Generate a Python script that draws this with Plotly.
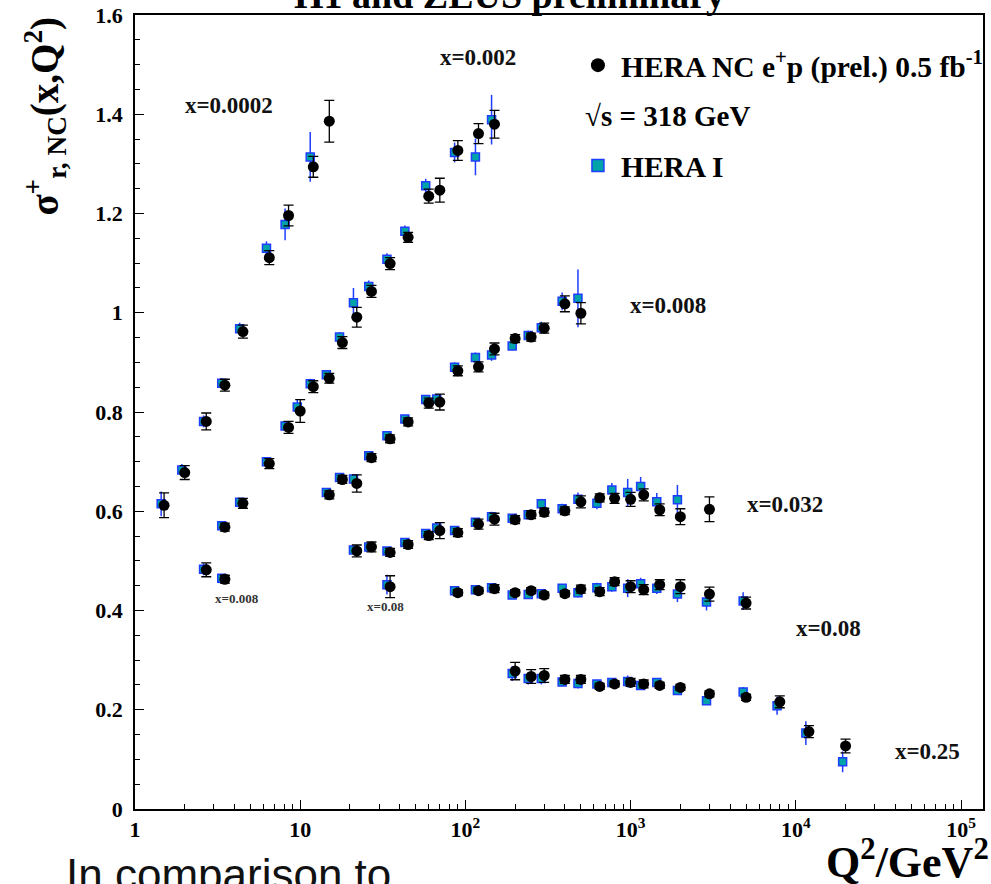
import plotly.graph_objects as go

# ---------------- data ----------------
# x = 0.0002
q2_a_nc = [1.5, 2, 2.7, 3.5, 4.5, 6.5, 8.5, 12, 15]
nc_a = [0.612, 0.678, 0.781, 0.854, 0.962, 1.111, 1.196, 1.294, 1.386]
nc_a_err = [0.025, 0.014, 0.017, 0.012, 0.013, 0.014, 0.021, 0.021, 0.042]
q2_a_h1 = [1.44, 1.92, 2.6, 3.35, 4.3, 6.25, 8.1, 11.5]
h1_a = [0.615, 0.683, 0.781, 0.858, 0.968, 1.130, 1.178, 1.314]
h1_a_err = [0.025, 0.012, 0.012, 0.010, 0.012, 0.014, 0.032, 0.050]

# x = 0.002
q2_b_nc = [3.5, 4.5, 6.5, 8.5, 10, 12, 15, 18, 22, 27, 35, 45, 60, 70, 90, 120, 150]
nc_b = [0.568, 0.616, 0.696, 0.769, 0.802, 0.851, 0.868, 0.940, 0.991, 1.043,
        1.099, 1.152, 1.235, 1.247, 1.327, 1.361, 1.380]
nc_b_err = [0.008, 0.010, 0.010, 0.012, 0.023, 0.012, 0.010, 0.012, 0.020, 0.012,
            0.012, 0.010, 0.014, 0.024, 0.020, 0.020, 0.028]
q2_b_h1 = [3.35, 4.3, 6.25, 8.1, 9.6, 11.5, 14.4, 17.3, 21, 26, 33.5, 43, 57.5, 86, 115, 144]
h1_b = [0.571, 0.618, 0.700, 0.772, 0.810, 0.857, 0.875, 0.951, 1.020, 1.053,
        1.108, 1.164, 1.256, 1.323, 1.314, 1.389]
h1_b_err = [0.008, 0.008, 0.008, 0.010, 0.015, 0.010, 0.008, 0.010, 0.030, 0.012,
            0.012, 0.012, 0.014, 0.020, 0.037, 0.050]

# x = 0.008 (low Q2 points, small label)
q2_c0_nc = [2.7, 3.5]
nc_c0 = [0.482, 0.463]
nc_c0_err = [0.014, 0.008]
q2_c0_h1 = [2.6, 3.35]
h1_c0 = [0.483, 0.465]
h1_c0_err = [0.012, 0.008]

# x = 0.008
q2_c_nc = [15, 18, 22, 27, 35, 45, 60, 70, 90, 120, 150, 200, 250, 300, 400, 500]
nc_c = [0.633, 0.664, 0.656, 0.708, 0.746, 0.780, 0.818, 0.820, 0.883, 0.891,
        0.927, 0.948, 0.951, 0.969, 1.018, 0.999]
nc_c_err = [0.008, 0.008, 0.0175, 0.008, 0.008, 0.008, 0.010, 0.016, 0.010, 0.010,
            0.012, 0.008, 0.008, 0.010, 0.016, 0.0215]
q2_c_h1 = [14.4, 17.3, 21, 26, 33.5, 43, 57.5, 67, 86, 115, 144, 192, 240, 288, 385, 480]
h1_c = [0.638, 0.668, 0.665, 0.712, 0.752, 0.786, 0.825, 0.826, 0.890, 0.910,
        0.915, 0.933, 0.954, 0.970, 1.023, 1.029]
h1_c_err = [0.006, 0.006, 0.010, 0.006, 0.006, 0.006, 0.008, 0.010, 0.010, 0.010,
            0.012, 0.008, 0.010, 0.012, 0.018, 0.058]

# x = 0.032
q2_d_nc = [22, 27, 35, 45, 60, 70, 90, 120, 150, 200, 250, 300, 400, 500, 650,
           800, 1000, 1200, 1500, 2000, 3000]
nc_d = [0.520, 0.528, 0.517, 0.533, 0.551, 0.561, 0.557, 0.574, 0.584, 0.583,
        0.593, 0.598, 0.601, 0.619, 0.627, 0.626, 0.624, 0.633, 0.603, 0.589, 0.604]
nc_d_err = [0.012, 0.010, 0.008, 0.008, 0.008, 0.016, 0.008, 0.010, 0.012, 0.008,
            0.008, 0.008, 0.008, 0.012, 0.008, 0.010, 0.014, 0.012, 0.012, 0.016, 0.025]
q2_d_h1 = [21, 26, 33.5, 43, 57.5, 67, 86, 115, 144, 192, 240, 288, 385, 480, 625,
           770, 960, 1150, 1440, 1920]
h1_d = [0.522, 0.528, 0.520, 0.537, 0.555, 0.566, 0.561, 0.578, 0.589, 0.586,
        0.593, 0.615, 0.605, 0.624, 0.616, 0.643, 0.638, 0.650, 0.619, 0.623]
h1_d_err = [0.008, 0.008, 0.006, 0.006, 0.006, 0.010, 0.006, 0.008, 0.010, 0.008,
            0.008, 0.010, 0.010, 0.014, 0.012, 0.014, 0.027, 0.019, 0.018, 0.030]

# x = 0.08 (single low-Q2 point, small label)
q2_e0_nc = [35]
nc_e0 = [0.448]
nc_e0_err = [0.022]
q2_e0_h1 = [33.5]
h1_e0 = [0.452]
h1_e0_err = [0.020]

# x = 0.08
q2_e_nc = [90, 120, 150, 200, 250, 300, 400, 500, 650, 800, 1000, 1200, 1500, 2000, 3000, 5000]
nc_e = [0.436, 0.440, 0.444, 0.436, 0.440, 0.431, 0.434, 0.443, 0.438, 0.458,
        0.448, 0.442, 0.452, 0.448, 0.433, 0.415]
nc_e_err = [0.006, 0.006, 0.008, 0.006, 0.006, 0.006, 0.006, 0.008, 0.008, 0.008,
            0.012, 0.010, 0.010, 0.014, 0.014, 0.012]
q2_e_h1 = [86, 115, 144, 192, 240, 288, 385, 480, 625, 770, 960, 1150, 1440, 1920, 2880, 4800]
h1_e = [0.440, 0.442, 0.446, 0.431, 0.432, 0.434, 0.445, 0.436, 0.446, 0.448,
        0.445, 0.454, 0.445, 0.433, 0.417, 0.419]
h1_e_err = [0.006, 0.006, 0.008, 0.006, 0.006, 0.006, 0.008, 0.010, 0.010, 0.010,
            0.018, 0.012, 0.012, 0.016, 0.017, 0.018]

# x = 0.25
q2_f_nc = [200, 250, 300, 400, 500, 650, 800, 1000, 1200, 1500, 2000, 3000, 5000,
           8000, 12000, 20000]
nc_f = [0.278, 0.267, 0.269, 0.261, 0.261, 0.247, 0.252, 0.255, 0.252, 0.249,
        0.245, 0.232, 0.225, 0.216, 0.156, 0.127]
nc_f_err = [0.0175, 0.014, 0.014, 0.008, 0.008, 0.006, 0.006, 0.008, 0.008, 0.006,
            0.006, 0.006, 0.006, 0.012, 0.012, 0.014]
q2_f_h1 = [192, 240, 288, 385, 480, 625, 770, 960, 1150, 1440, 1920, 2880, 4800,
           7700, 11500, 19200]
h1_f = [0.273, 0.263, 0.263, 0.256, 0.253, 0.252, 0.255, 0.257, 0.249, 0.255,
        0.239, 0.218, 0.236, 0.208, 0.153, 0.095]
h1_f_err = [0.015, 0.012, 0.012, 0.008, 0.010, 0.008, 0.008, 0.012, 0.008, 0.008,
            0.008, 0.008, 0.010, 0.018, 0.024, 0.021]

bin_labels = ["x=0.0002", "x=0.002", "x=0.008", "x=0.032", "x=0.08", "x=0.25"]
small_labels = ["x=0.008", "x=0.08"]

x_tickvals = [1, 10, 100, 1000, 10000, 100000]
x_ticktext = ["1", "10", "10<sup>2</sup>", "10<sup>3</sup>", "10<sup>4</sup>", "10<sup>5</sup>"]
y_tickvals = [0, 0.2, 0.4, 0.6, 0.8, 1.0, 1.2, 1.4, 1.6]
y_ticktext = ["0", "0.2", "0.4", "0.6", "0.8", "1", "1.2", "1.4", "1.6"]

# ---------------- styling ----------------
SERIF = "Liberation Serif, Times New Roman, serif"
TEAL = "#00a3a8"
BLUE = "#1f3dff"

h1_sets = [(q2_a_h1, h1_a, h1_a_err), (q2_b_h1, h1_b, h1_b_err), (q2_c0_h1, h1_c0, h1_c0_err),
           (q2_c_h1, h1_c, h1_c_err), (q2_d_h1, h1_d, h1_d_err), (q2_e0_h1, h1_e0, h1_e0_err),
           (q2_e_h1, h1_e, h1_e_err), (q2_f_h1, h1_f, h1_f_err)]
nc_sets = [(q2_a_nc, nc_a, nc_a_err), (q2_b_nc, nc_b, nc_b_err), (q2_c0_nc, nc_c0, nc_c0_err),
           (q2_c_nc, nc_c, nc_c_err), (q2_d_nc, nc_d, nc_d_err), (q2_e0_nc, nc_e0, nc_e0_err),
           (q2_e_nc, nc_e, nc_e_err), (q2_f_nc, nc_f, nc_f_err)]

fig = go.Figure()

for q, v, e in h1_sets:
    fig.add_trace(go.Scatter(
        x=q, y=v, mode="markers", showlegend=False, hoverinfo="skip",
        marker=dict(symbol="square", size=8, color=TEAL, line=dict(color=BLUE, width=1.5)),
        error_y=dict(type="data", array=e, visible=True, color=BLUE, thickness=1.5, width=0),
    ))

for q, v, e in nc_sets:
    fig.add_trace(go.Scatter(
        x=q, y=v, mode="markers", showlegend=False, hoverinfo="skip",
        marker=dict(symbol="circle", size=11, color="black"),
        error_y=dict(type="data", array=e, visible=True, color="black", thickness=1.3, width=5),
    ))

# legend entries
fig.add_trace(go.Scatter(
    x=[None], y=[None], mode="markers", name="HERA NC e<sup>+</sup>p (prel.) 0.5 fb<sup>-1</sup>",
    marker=dict(symbol="circle", size=14, color="black"), legendrank=1, legendgroup="nc"))
fig.add_trace(go.Scatter(
    x=[None], y=[None], mode="markers", name="HERA I",
    marker=dict(symbol="square", size=12, color=TEAL, line=dict(color=BLUE, width=1.5)),
    legendrank=2, legendgroup="h1"))

# bin labels (positions in axis units: log10(Q2), sigma)
label_pos = [(0.569, 1.417), (2.076, 1.514), (3.226, 1.014), (3.935, 0.613), (4.195, 0.363), (4.800, 0.115)]
for txt, (lx, ly) in zip(bin_labels, label_pos):
    fig.add_annotation(x=lx, y=ly, xref="x", yref="y", text=txt, showarrow=False,
                       font=dict(family=SERIF, size=23, color="#111", weight="bold"))
small_pos = [(0.617, 0.425), (1.519, 0.409)]
for txt, (lx, ly) in zip(small_labels, small_pos):
    fig.add_annotation(x=lx, y=ly, xref="x", yref="y", text=txt, showarrow=False,
                       font=dict(family=SERIF, size=13, color="#333", weight="bold"))

# sqrt(s) line of the legend
fig.add_annotation(x=0.5283, y=0.8728, xref="paper", yref="paper", xanchor="left", yanchor="middle",
                   text="√s = 318 GeV", showarrow=False,
                   font=dict(family=SERIF, size=29, color="black", weight="bold"))

# y axis title
fig.add_annotation(x=-0.106, y=1.0, xref="paper", yref="paper", xanchor="center", yanchor="top",
                   text="σ<sup>+</sup><sub>r, NC</sub>(x,Q<sup>2</sup>)", textangle=-90, showarrow=False,
                   font=dict(family=SERIF, size=39, color="black", weight="bold"))
# x axis title
fig.add_annotation(x=1.0094, y=0, xref="paper", yref="paper", xanchor="right", yanchor="middle",
                   yshift=-50, text="Q<sup>2</sup>/GeV<sup>2</sup>", showarrow=False,
                   font=dict(family=SERIF, size=44, color="black", weight="bold"))
# partly cut title at the top
fig.add_annotation(x=0.4422, y=1, xref="paper", yref="paper", xanchor="center", yanchor="middle",
                   yshift=20, text="H1 and ZEUS preliminary", showarrow=False,
                   font=dict(family=SERIF, size=38, color="black", weight="bold"))
# partly cut slide text at the bottom
fig.add_annotation(x=-0.084, y=0, xref="paper", yref="paper", xanchor="left", yanchor="middle",
                   yshift=-65, text="In comparison to", showarrow=False,
                   font=dict(family="Liberation Sans, Arial, sans-serif", size=44, color="#111"))

fig.update_layout(
    width=991, height=884,
    margin=dict(l=135, r=8, t=15, b=75, autoexpand=False),
    paper_bgcolor="white", plot_bgcolor="white",
    showlegend=True,
    legend=dict(x=0.5188, y=0.9692, xanchor="left", yanchor="top", bgcolor="rgba(0,0,0,0)",
                itemwidth=36, tracegroupgap=59,
                font=dict(family=SERIF, size=29.5, color="black", weight="bold")),
    xaxis=dict(type="log", range=[0, 5.133], showgrid=False, zeroline=False,
               showline=True, linecolor="black", linewidth=1.5, mirror=True,
               tickmode="array", tickvals=x_tickvals, ticktext=x_ticktext,
               ticks="inside", ticklen=9, tickwidth=1.2, tickcolor="black",
               tickfont=dict(family=SERIF, size=22, color="black", weight="bold"),
               minor=dict(ticks="inside", ticklen=5, tickwidth=1, tickcolor="black", dtick="D1", showgrid=False)),
    yaxis=dict(range=[0, 1.6], showgrid=False, zeroline=False,
               showline=True, linecolor="black", linewidth=1.5, mirror=True,
               tickmode="array", tickvals=y_tickvals, ticktext=y_ticktext,
               ticks="inside", ticklen=9, tickwidth=1.2, tickcolor="black", ticklabelstandoff=6,
               tickfont=dict(family=SERIF, size=22, color="black", weight="bold"),
               minor=dict(ticks="inside", ticklen=5, tickwidth=1, tickcolor="black", dtick=0.05, tick0=0, showgrid=False)),
)

fig.write_html("out.html")
